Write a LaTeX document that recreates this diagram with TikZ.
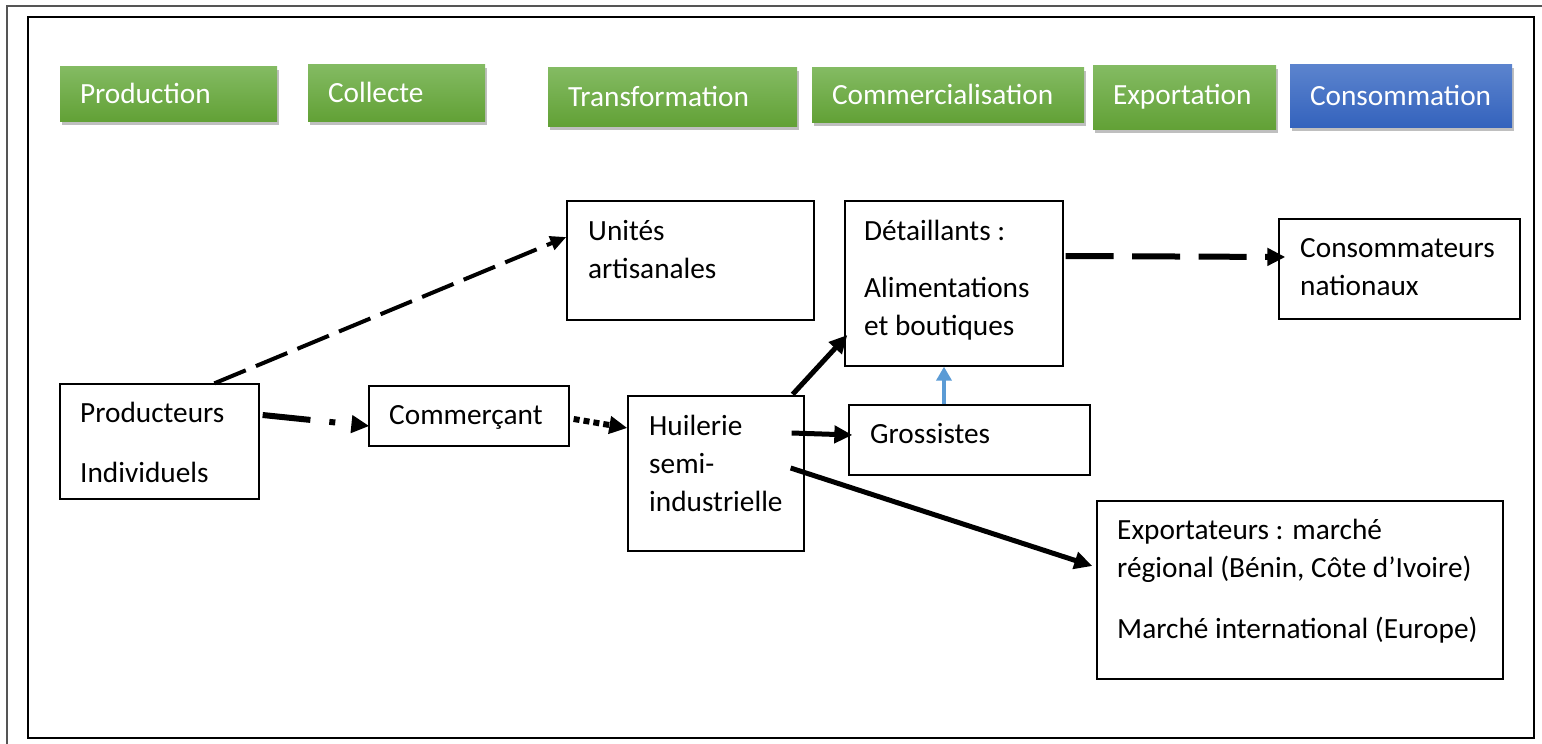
\documentclass[tikz,border=0pt]{standalone}
\usepackage{fontspec}
\setmainfont{Carlito}
\usetikzlibrary{arrows.meta,shadows,calc}
\definecolor{gtop}{RGB}{132,187,99}
\definecolor{gbot}{RGB}{98,161,54}
\definecolor{btop}{RGB}{92,132,206}
\definecolor{bbot}{RGB}{52,99,189}
\definecolor{lblue}{RGB}{91,155,213}
\definecolor{framegray}{RGB}{85,85,85}
\begin{document}
\begin{tikzpicture}[x=1pt,y=-1pt,
  hdr/.style={inner xsep=20pt, inner ysep=0pt, align=left, text=white,
    font=\fontsize{29.3}{35}\selectfont,
    drop shadow={shadow xshift=2pt,shadow yshift=-4pt,opacity=0.25,fill=black}},
  hdrgreen/.style={hdr, top color=gtop, bottom color=gbot},
  hdrblue/.style={hdr, top color=btop, bottom color=bbot},
  box/.style={draw=black, line width=1.3pt, fill=white, inner sep=0pt},
  lbl/.style={anchor=base west, inner sep=0pt, font=\fontsize{29.3}{38}\selectfont},
  arr/.style={-{Triangle[length=18pt,width=17pt]}, line width=5pt}
]
\useasboundingbox (0,0) rectangle (1542,744);
% frames
\draw[framegray, line width=2pt] (7,744) -- (7,6) -- (1542,6);
\draw[black, line width=1.5pt] (28,17) rectangle (1534,738);

% header boxes
\node[hdrgreen, text width=177pt, minimum height=55pt] (hProd) at (168.5,93.5) {Production};
\node[hdrgreen, text width=137pt, minimum height=57pt] (hColl) at (396.5,92.5) {Collecte};
\node[hdrgreen, text width=209pt, minimum height=59pt] (hTrans) at (672.5,96.5) {Transformation};
\node[hdrgreen, text width=232pt, minimum height=55pt] (hComm) at (948,94.5) {Commercialisation};
\node[hdrgreen, text width=143pt, minimum height=64pt] (hExp) at (1184.5,97) {Exportation};
\node[hdrblue, text width=182pt, minimum height=63pt] (hCons) at (1401,95.5) {Consommation};

% boxes
\node[box, minimum width=247pt, minimum height=119pt] (unites) at (690.5,260.5) {};
\node[box, minimum width=218pt, minimum height=165pt] (detail) at (954,283.5) {};
\node[box, minimum width=241pt, minimum height=100pt] (conso) at (1399.5,269) {};
\node[box, minimum width=199pt, minimum height=115pt] (prod) at (159.5,441.5) {};
\node[box, minimum width=200pt, minimum height=60pt] (comm) at (469,416) {};
\node[box, minimum width=176pt, minimum height=155pt] (huil) at (716,473.5) {};
\node[box, minimum width=241pt, minimum height=70pt] (gros) at (969.5,440) {};
\node[box, minimum width=406pt, minimum height=178pt] (export) at (1300,590) {};

% texts
\node[lbl] (tUnites) at (588,240) {\parbox[t]{220pt}{Unités\\artisanales}};
\node[lbl] (tDetail) at (864,240) {\parbox[t]{200pt}{Détaillants :\\[19pt]Alimentations\\et boutiques}};
\node[lbl] (tConso) at (1300,257) {\parbox[t]{220pt}{Consommateurs\\nationaux}};
\node[lbl] (tProd) at (80,422) {\parbox[t]{180pt}{Producteurs\\[22pt]Individuels}};
\node[lbl] (tComm) at (389,424) {Commerçant};
\node[lbl] (tHuil) at (649,435) {\parbox[t]{160pt}{Huilerie\\semi-\\industrielle}};
\node[lbl] (tGros) at (870,443) {Grossistes};
\node[lbl] (tExport) at (1117,539) {\parbox[t]{380pt}{Exportateurs : marché\\régional (Bénin, Côte d’Ivoire)\\[23pt]Marché international (Europe)}};

% connectors
\draw[-{Triangle[length=16pt,width=14pt]}, line width=4pt, dash pattern=on 34pt off 11pt]
  ([xshift=155pt]prod.north west) -- ([yshift=23.5pt]unites.west);
\draw[arr, line width=6pt, dash pattern=on 48pt off 19pt on 6pt off 18pt]
  ([shift={(3pt,26.5pt)}]prod.east) -- ([shift={(1pt,-10pt)}]comm.west);
\draw[arr, line width=6pt, dash pattern=on 6pt off 4pt]
  ([shift={(4pt,-3pt)}]comm.east) -- ([yshift=45.5pt]huil.west);
\draw[arr] ([shift={(-12pt,1pt)}]huil.north east) -- ([shift={(3pt,-51.5pt)}]detail.west);
\draw[arr] ([shift={(-13pt,40.5pt)}]huil.east) -- ([shift={(4pt,5pt)}]gros.west);
\draw[arr] ([shift={(-14pt,5.5pt)}]huil.east) -- ([shift={(-4pt,24pt)}]export.west);
\draw[lblue, line width=3.5pt, -{Triangle[length=14pt,width=15pt]}]
  ([xshift=-25.5pt]gros.north) -- ([xshift=-10pt]detail.south);
\draw[arr, line width=6pt, dash pattern=on 48pt off 18.5pt]
  ([shift={(2pt,27.5pt)}]detail.east) -- ([shift={(7pt,12pt)}]conso.west);
\end{tikzpicture}
\end{document}
